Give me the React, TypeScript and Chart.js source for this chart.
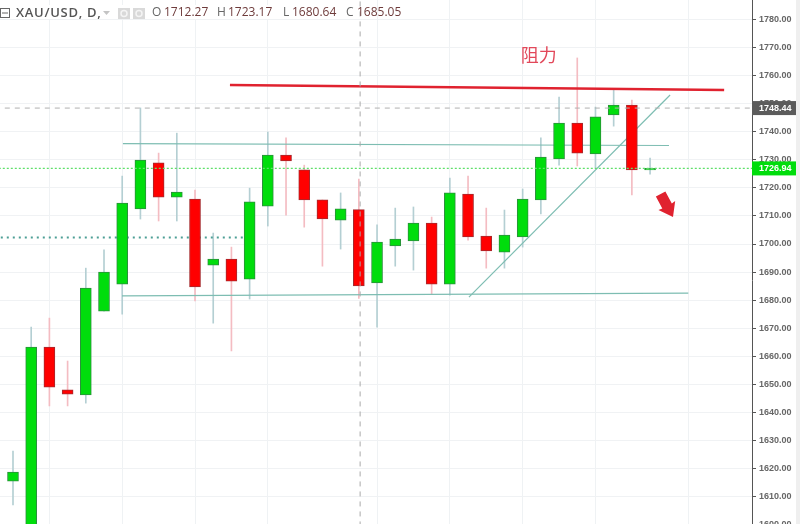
import React, { useEffect, useRef } from "react";
import { Chart, registerables } from "chart.js";

Chart.register(...registerables);

// Candle values, oldest first
const opens = [1615.5, 1590, 1663.3, 1648, 1646.2, 1676.1, 1685.7, 1712.5, 1728.9, 1716.7, 1716, 1692.5, 1694.6, 1687.5, 1713.5, 1731.7, 1726.4, 1715.7, 1708.5, 1712.27, 1686.1, 1699.3, 1701.1, 1707.5, 1685.7, 1717.8, 1702.8, 1697.1, 1702.5, 1715.7, 1730.3, 1743.1, 1732.1, 1746, 1749.5, 1726.4];
const highs = [1626.2, 1670.4, 1673.6, 1658.3, 1691.4, 1697.9, 1724.2, 1748.5, 1732.4, 1739.5, 1719.2, 1703.9, 1698.9, 1719.9, 1739.9, 1737.8, 1728.1, 1715.7, 1718.2, 1723.17, 1706.8, 1712.8, 1713.2, 1709.6, 1723.5, 1724.2, 1712.8, 1712.1, 1719.6, 1737.8, 1752.4, 1766.3, 1748.8, 1754.9, 1751.3, 1730.6];
const lows = [1607, 1585, 1642.3, 1642.3, 1643.3, 1676.1, 1675, 1708.9, 1708.2, 1708.2, 1679.7, 1671.8, 1661.9, 1680.4, 1706.4, 1710.3, 1706, 1692.1, 1698.2, 1680.64, 1670.4, 1692.1, 1690.7, 1682.2, 1681.8, 1701.4, 1691.4, 1691.4, 1698.9, 1710.7, 1728.1, 1727.8, 1727.1, 1742, 1717.5, 1724.9];
const closes = [1618.7, 1663.3, 1649, 1646.5, 1684.3, 1690, 1714.6, 1729.9, 1716.7, 1718.5, 1684.7, 1694.6, 1686.8, 1715, 1731.7, 1729.6, 1715.7, 1708.9, 1712.5, 1685.05, 1700.7, 1701.8, 1707.5, 1685.7, 1718.2, 1702.5, 1697.5, 1703.2, 1716, 1731, 1743.1, 1732.4, 1745.3, 1749.5, 1726.4, 1727];

const gridIndices = [2, 6, 10, 14, 20, 24, 28, 32, 37.1];

// Drawn lines: [x index, price] pairs
const resistanceLine = [{ x: 11.92, y: 1756.7 }, { x: 39.07, y: 1754.9 }];
const upperChannel = [{ x: 6.04, y: 1735.8 }, { x: 36.04, y: 1735.1 }];
const lowerChannel = [{ x: 5.99, y: 1681.5 }, { x: 37.1, y: 1682.5 }];
const riseLine = [{ x: 25.05, y: 1681.1 }, { x: 36.1, y: 1753.1 }];
const crosshairIndex = 19.07;
const lastPrice = 1726.94;
const crossPrice = 1748.44;
const tealLevel = 1702.3;
const tealLevelEnd = 12.75;

// Falling arrow in [index, price]
const arrowTail = { x: 35.58, y: 1717.8 };
const arrowTip = { x: 36.26, y: 1709.6 };
const resistanceLabel = { x: 27.9, y: 1767.3, text: "阻力" };

const symbolText = "XAU/USD, D,";
const ohlc = [
  ["O", "1712.27", 152, 164],
  ["H", "1723.17", 217, 228],
  ["L", "1680.64", 283, 292],
  ["C", "1685.05", 346, 357],
] as const;

const UP = "#00dd0c";
const DOWN = "#ff0000";
const UP_EDGE = "#2b8f3c";
const DOWN_EDGE = "#a52a2e";
const UP_WICK = "#b4cfd3";
const DOWN_WICK = "#f4bcc2";
const TEAL = "#7dbdb2";
const RED_LINE = "#e0222f";

const overlay = {
  id: "overlay",
  afterDatasetsDraw(chart: any) {
    const { ctx, scales } = chart;
    const px = (v: number) => scales.x.getPixelForValue(v);
    const py = (v: number) => scales.y.getPixelForValue(v);
    ctx.save();

    // outer strip
    ctx.fillStyle = "#efefef";
    ctx.fillRect(796, 0, 4, 560);

    // price tags
    const tag = (v: number, bg: string) => {
      const y = py(v);
      ctx.fillStyle = bg;
      ctx.fillRect(752, y - 7, 44, 14);
      ctx.fillStyle = "#ffffff";
      ctx.font = "bold 9px 'Liberation Sans'";
      ctx.textBaseline = "middle";
      ctx.textAlign = "left";
      ctx.fillText(v.toFixed(2), 759, y + 0.5);
    };
    tag(crossPrice, "#5c5c5c");
    tag(lastPrice, UP);

    // resistance label
    ctx.fillStyle = "#e2485a";
    ctx.font = "18px 'Noto Sans CJK SC'";
    ctx.textAlign = "left";
    ctx.textBaseline = "middle";
    ctx.fillText(resistanceLabel.text, px(resistanceLabel.x), py(resistanceLabel.y));

    // arrow
    const tx = px(arrowTail.x), ty = py(arrowTail.y);
    const hx = px(arrowTip.x), hy = py(arrowTip.y);
    const ang = Math.atan2(hy - ty, hx - tx);
    const len = Math.hypot(hx - tx, hy - ty);
    ctx.translate(tx, ty);
    ctx.rotate(ang);
    ctx.fillStyle = RED_LINE;
    ctx.beginPath();
    ctx.moveTo(0, -5.4);
    ctx.lineTo(len * 0.52, -5.4);
    ctx.lineTo(len * 0.5, -9.5);
    ctx.lineTo(len, 0);
    ctx.lineTo(len * 0.5, 9.5);
    ctx.lineTo(len * 0.52, 5.4);
    ctx.lineTo(0, 5.4);
    ctx.closePath();
    ctx.fill();
    ctx.setTransform(chart.currentDevicePixelRatio, 0, 0, chart.currentDevicePixelRatio, 0, 0);

    // header
    ctx.fillStyle = "#ffffff";
    ctx.fillRect(0, 5, 356, 14);
    ctx.strokeStyle = "#666666";
    ctx.lineWidth = 1;
    ctx.strokeRect(0.5, 8.5, 9, 9);
    ctx.beginPath();
    ctx.moveTo(2, 13);
    ctx.lineTo(8, 13);
    ctx.stroke();
    ctx.textBaseline = "middle";
    ctx.font = "600 13px 'Open Sans'";
    ctx.letterSpacing = "0.7px";
    ctx.fillStyle = "#555555";
    ctx.fillText(symbolText, 16, 13);
    ctx.letterSpacing = "0px";
    ctx.fillStyle = "#c4c4c4";
    ctx.beginPath();
    ctx.moveTo(103, 11);
    ctx.lineTo(110, 11);
    ctx.lineTo(106.5, 15);
    ctx.closePath();
    ctx.fill();
    ctx.fillStyle = "#d9d9d9";
    ctx.fillRect(118, 8, 12, 11);
    ctx.fillRect(133, 8, 12, 11);
    ctx.strokeStyle = "#f4f4f4";
    ctx.lineWidth = 1.5;
    ctx.beginPath();
    ctx.arc(124, 13.5, 3, 0, Math.PI * 2);
    ctx.stroke();
    ctx.beginPath();
    ctx.arc(139, 13.5, 3, 0, Math.PI * 2);
    ctx.stroke();
    ctx.font = "12px 'Open Sans'";
    for (const [k, v, kx, vx] of ohlc) {
      ctx.fillStyle = "#666666";
      ctx.fillText(k, kx, 13);
      ctx.fillStyle = "#6e3b3b";
      ctx.fillText(v, vx, 13);
    }
    ctx.restore();
  },
};

const candleIdx = opens.map((_, i) => i);
const isUp = (i: number) => closes[i] >= opens[i];

export default function App() {
  const ref = useRef<HTMLCanvasElement>(null);
  useEffect(() => {
    const chart = new Chart(ref.current as HTMLCanvasElement, {
      type: "bar",
      data: {
        datasets: [
          {
            label: "crosshair",
            type: "line",
            data: [{ x: crosshairIndex, y: 1790 }, { x: crosshairIndex, y: 1580 }],
            borderColor: "#a9a9a9",
            borderWidth: 1,
            borderDash: [5, 5],
            pointRadius: 0,
            order: 1,
          },
          {
            label: "price line",
            type: "line",
            data: [{ x: -1, y: lastPrice }, { x: 42, y: lastPrice }],
            borderColor: "#5fe06a",
            borderWidth: 1.2,
            borderDash: [2, 2],
            pointRadius: 0,
            order: 2,
          },
          {
            label: "cross price",
            type: "line",
            data: [{ x: -1, y: crossPrice }, { x: 42, y: crossPrice }],
            borderColor: "#b0b0b0",
            borderWidth: 1,
            borderDash: [5, 5],
            pointRadius: 0,
            order: 2,
          },
          {
            label: "resistance",
            type: "line",
            data: resistanceLine,
            borderColor: RED_LINE,
            borderWidth: 2.5,
            pointRadius: 0,
            order: 2,
          },
          {
            label: "open/close",
            data: candleIdx.map((i) => ({ x: i, y: [opens[i], closes[i]] })),
            backgroundColor: candleIdx.map((i) => (isUp(i) ? UP : DOWN)),
            borderColor: candleIdx.map((i) => (isUp(i) ? UP_EDGE : DOWN_EDGE)),
            borderWidth: 1,
            borderSkipped: false,
            barThickness: 11,
            grouped: false,
            order: 3,
          },
          ...[upperChannel, lowerChannel, riseLine].map((d, n) => ({
            label: "trend " + n,
            type: "line",
            data: d,
            borderColor: TEAL,
            borderWidth: 1.2,
            pointRadius: 0,
            order: 4,
          })),
          {
            label: "level",
            type: "line",
            data: [{ x: -1, y: tealLevel }, { x: tealLevelEnd, y: tealLevel }],
            borderColor: "#4d9f96",
            borderWidth: 2,
            borderDash: [2, 4],
            pointRadius: 0,
            order: 4,
          },
          {
            label: "high/low",
            data: candleIdx.map((i) => ({ x: i, y: [lows[i], highs[i]] })),
            backgroundColor: candleIdx.map((i) => (isUp(i) ? UP_WICK : DOWN_WICK)),
            borderWidth: 0,
            barThickness: 1,
            grouped: false,
            order: 5,
          },
        ] as any,
      },
      options: {
        animation: false,
        responsive: false,
        events: [],
        layout: { padding: 0 },
        plugins: { legend: { display: false }, tooltip: { enabled: false } },
        scales: {
          x: {
            type: "linear",
            min: -0.714,
            max: 40.6,
            offset: false,
            afterBuildTicks(axis: any) {
              axis.ticks = gridIndices.map((value) => ({ value }));
            },
            grid: { color: "#eff2f4", drawTicks: false, offset: false },
            border: { display: false },
            ticks: { display: false },
          },
          y: {
            position: "right",
            min: 1587.4,
            max: 1786.95,
            afterFit(axis: any) {
              axis.width = 48;
              axis.paddingTop = 0;
              axis.paddingBottom = 0;
            },
            border: { color: "#555555", width: 1 },
            grid: { color: "#f0f2f4", tickLength: 4, tickColor: "#555555" },
            ticks: {
              stepSize: 10,
              includeBounds: false,
              autoSkip: false,
              padding: 3,
              color: "#666666",
              font: { family: "'Liberation Sans'", size: 9, weight: "bold" },
              callback: (v: any) => Number(v).toFixed(2),
            },
          },
        },
      },
      plugins: [overlay],
    } as any);
    return () => chart.destroy();
  }, []);

  return (
    <div style={{ position: "absolute", left: 0, top: 0, width: 800, height: 524, overflow: "hidden", background: "#fff" }}>
      <canvas ref={ref} width={800} height={560} style={{ display: "block" }} />
    </div>
  );
}
